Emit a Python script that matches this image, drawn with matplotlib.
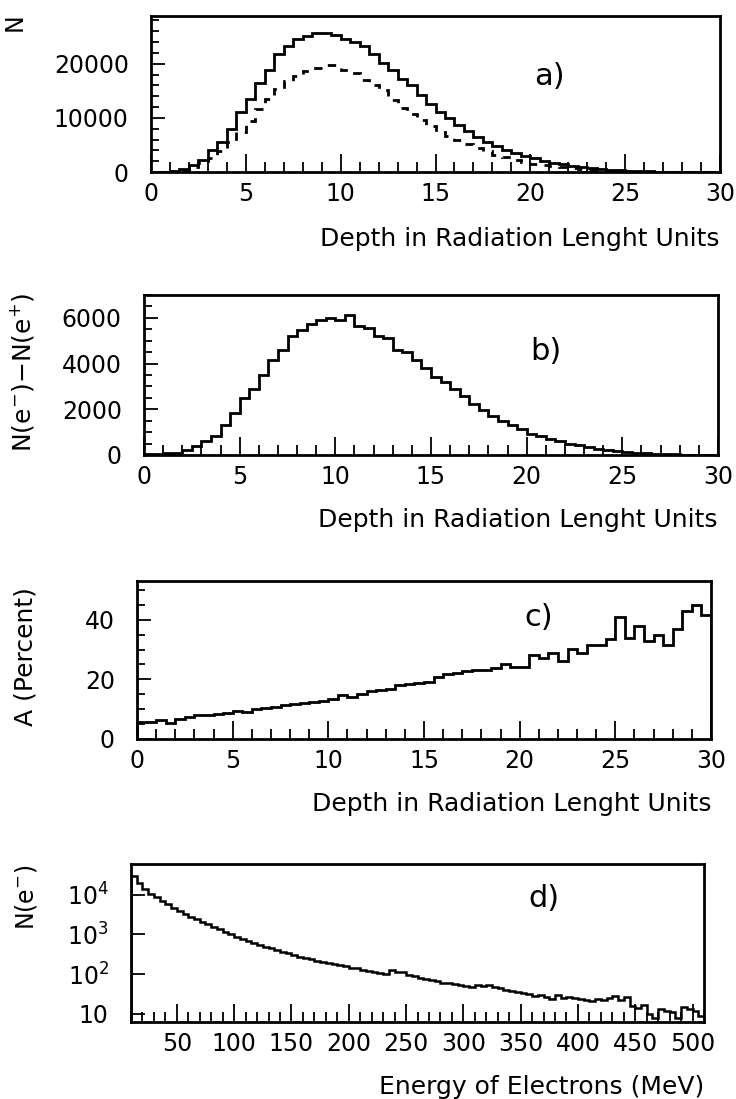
import numpy as np
import matplotlib
matplotlib.use("Agg")
import matplotlib.pyplot as plt
from matplotlib.ticker import MultipleLocator, FixedLocator, FixedFormatter, LogLocator, NullFormatter

plt.rcParams['font.family'] = ['DejaVu Sans']

# depth bins: 0..30 radiation lengths, 0.5 wide
depth_edges = np.arange(0, 30.5, 0.5)

# a) all particles (solid) and electrons (dashed)
a_total = [0, 0, 200, 600, 1300, 2200, 4000, 5500, 8000, 11000,
           13500, 16400, 18900, 21700, 23300, 24600, 25200, 25700, 25700, 25300,
           24600, 24000, 23300, 21800, 20100, 18800, 17200, 16000, 14200, 12600,
           11100, 9900, 8700, 7500, 6500, 5600, 4800, 4100, 3500, 2900,
           2500, 2100, 1700, 1400, 1100, 900, 700, 500, 400, 300,
           200, 150, 100, 80, 60, 40, 30, 20, 10, 10]
a_dashed = [0, 0, 100, 400, 900, 1600, 2600, 3800, 5600, 7300,
            9500, 11600, 13500, 15300, 16800, 17800, 18600, 19200, 19800, 19700,
            18800, 18200, 16900, 16000, 15100, 13300, 11900, 10800, 9600, 8500,
            7400, 6700, 6000, 5200, 4500, 3900, 3100, 2700, 2200, 1800,
            1500, 1300, 1100, 900, 700, 550, 420, 320, 230, 170,
            120, 80, 60, 40, 30, 20, 15, 10, 5, 5]

# b) N(e-) - N(e+)
b_excess = [50, 50, 100, 100, 200, 400, 600, 850, 1300, 1850,
            2500, 2900, 3500, 4150, 4600, 5200, 5450, 5750, 5900, 6000,
            5900, 6130, 5650, 5550, 5200, 5100, 4600, 4500, 4150, 3800,
            3400, 3200, 2900, 2600, 2250, 1950, 1700, 1500, 1300, 1130,
            900, 840, 700, 620, 500, 440, 330, 250, 220, 180,
            150, 100, 80, 60, 40, 30, 20, 20, 10, 5]

# c) asymmetry in percent
c_asym = [5.6, 5.8, 6.5, 5.3, 6.7, 7.3, 7.9, 8.1, 8.4, 8.8,
          9.4, 9.0, 9.9, 10.3, 10.9, 11.5, 11.7, 12.0, 12.4, 12.9,
          13.5, 14.6, 14.0, 15.2, 16.0, 16.3, 16.9, 18.0, 18.5, 18.9,
          19.1, 20.8, 21.9, 22.2, 22.7, 23.0, 23.3, 23.9, 25.3, 24.2,
          24.2, 28.1, 27.2, 29.0, 26.1, 30.3, 28.7, 31.5, 31.5, 33.5,
          41.0, 34.0, 38.0, 33.0, 35.0, 31.5, 37.0, 43.0, 45.0, 41.5]

# d) electron energy spectrum, 5 MeV bins from 10 to 510 MeV
energy_edges = np.arange(10, 515, 5)
d_counts = [30000, 20000, 14000, 10500, 8500, 7000, 5800, 4700, 3900, 3300,
            2800, 2400, 2100, 1800, 1550, 1350, 1150, 1000, 880, 780,
            690, 620, 540, 490, 440, 400, 350, 330, 300, 270,
            250, 235, 215, 200, 185, 175, 165, 155, 140, 138,
            130, 120, 112, 105, 100, 128, 110, 112, 95, 88,
            80, 74, 70, 66, 60, 58, 55, 52, 50, 46,
            52, 50, 52, 48, 44, 40, 38, 36, 34, 32,
            28, 30, 27, 24, 29, 25, 27, 25, 23, 22,
            21, 23, 22, 25, 28, 22, 26, 16, 14, 17,
            10, 8, 13, 12, 11, 8, 15, 13, 12, 9]

depth_label = "Depth in Radiation Lenght Units"

W, H = 736, 1099
fig = plt.figure(figsize=(W / 100, H / 100), dpi=100)


def px_axes(left, right, top, bottom):
    return fig.add_axes([left / W, 1 - bottom / H, (right - left) / W, (bottom - top) / H])


def style(ax):
    for s in ax.spines.values():
        s.set_linewidth(2)
    ax.tick_params(which='both', direction='in', top=False, right=False,
                   labelsize=17, width=1.3)
    ax.tick_params(axis='x', which='major', length=13, pad=7)
    ax.tick_params(axis='x', which='minor', length=7)
    ax.tick_params(axis='y', which='major', length=10, pad=16)
    ax.tick_params(axis='y', which='minor', length=6)


# panel a
ax = px_axes(151, 720, 16, 172)
ax.stairs(a_total, depth_edges, color='black', linewidth=2)
ax.stairs(a_dashed, depth_edges, color='black', linewidth=2, linestyle=(0, (3, 3)))
ax.set_xlim(0, 30)
ax.set_ylim(0, 28800)
ax.xaxis.set_major_locator(MultipleLocator(5))
ax.xaxis.set_minor_locator(MultipleLocator(1))
ax.yaxis.set_major_locator(MultipleLocator(10000))
ax.yaxis.set_minor_locator(MultipleLocator(2000))
style(ax)
ax.set_xlabel(depth_label, loc='right', fontsize=18, labelpad=15)
ax.text(0.70, 0.61, "a)", transform=ax.transAxes, fontsize=22, ha='center', va='center')
fig.text(15 / W, 1 - 22 / H, "N", rotation=90, fontsize=17, ha='center', va='center')

# panel b
ax = px_axes(144, 718, 295, 455)
ax.stairs(b_excess, depth_edges, color='black', linewidth=2)
ax.set_xlim(0, 30)
ax.set_ylim(0, 7000)
ax.xaxis.set_major_locator(MultipleLocator(5))
ax.xaxis.set_minor_locator(MultipleLocator(1))
ax.yaxis.set_major_locator(MultipleLocator(2000))
ax.yaxis.set_minor_locator(MultipleLocator(500))
style(ax)
ax.set_xlabel(depth_label, loc='right', fontsize=18, labelpad=14)
ax.text(0.70, 0.65, "b)", transform=ax.transAxes, fontsize=22, ha='center', va='center')
fig.text(22 / W, 1 - 372 / H, r"N(e$^{-}$)$-$N(e$^{+}$)", rotation=90, fontsize=18,
         ha='center', va='center')

# panel c
ax = px_axes(137, 711, 581, 739)
ax.stairs(c_asym, depth_edges, color='black', linewidth=2)
ax.set_xlim(0, 30)
ax.set_ylim(0, 53)
ax.xaxis.set_major_locator(MultipleLocator(5))
ax.xaxis.set_minor_locator(MultipleLocator(1))
ax.yaxis.set_major_locator(MultipleLocator(20))
ax.yaxis.set_minor_locator(MultipleLocator(5))
style(ax)
ax.set_xlabel(depth_label, loc='right', fontsize=18, labelpad=14)
ax.text(0.70, 0.77, "c)", transform=ax.transAxes, fontsize=22, ha='center', va='center')
fig.text(26 / W, 1 - 657 / H, "A (Percent)", rotation=90, fontsize=18,
         ha='center', va='center')

# panel d
ax = px_axes(131, 704, 864, 1022)
ax.stairs(d_counts, energy_edges, color='black', linewidth=1.8)
ax.set_yscale('log')
ax.set_xlim(10, 510)
ax.set_ylim(6.2, 59000)
ax.xaxis.set_major_locator(MultipleLocator(50))
ax.xaxis.set_minor_locator(MultipleLocator(10))
ax.yaxis.set_major_locator(FixedLocator([10, 100, 1000, 10000]))
ax.yaxis.set_major_formatter(FixedFormatter(["10", r"10$^{2}$", r"10$^{3}$", r"10$^{4}$"]))
ax.yaxis.set_minor_locator(LogLocator(base=10, subs=np.arange(2, 10)))
ax.yaxis.set_minor_formatter(NullFormatter())
style(ax)
ax.set_xlabel("Energy of Electrons (MeV)", loc='right', fontsize=18, labelpad=14)
ax.text(0.72, 0.78, "d)", transform=ax.transAxes, fontsize=22, ha='center', va='center')
fig.text(26 / W, 1 - 897 / H, r"N(e$^{-}$)", rotation=90, fontsize=17,
         ha='center', va='center')

fig.savefig("out.png", dpi=100)
